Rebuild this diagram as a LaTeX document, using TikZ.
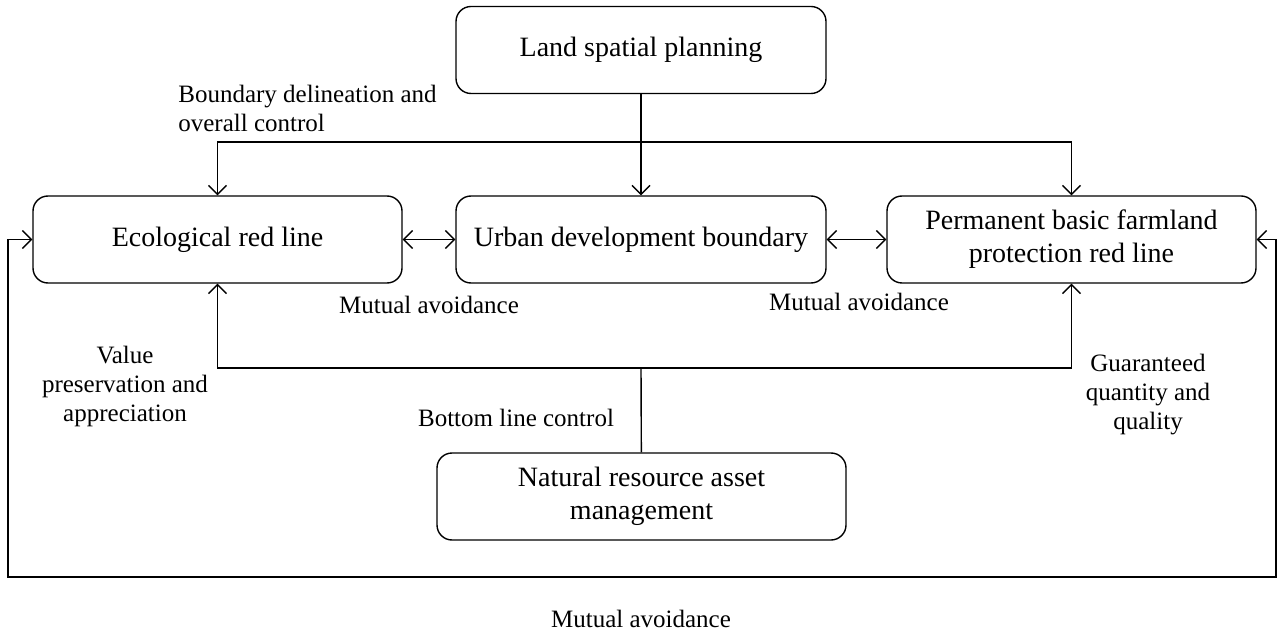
\documentclass[tikz,border=0pt]{standalone}
\usepackage{fontspec}
\setmainfont{Liberation Serif}
\usetikzlibrary{arrows.meta}

\begin{document}
\begin{tikzpicture}[x=0.5pt, y=-0.5pt,
	block/.style={draw, rounded corners=7.5pt, minimum width=185pt, minimum height=43.5pt, align=center, font=\fontsize{14}{16.5}\selectfont},
	lbl/.style={align=center, font=\fontsize{12.5}{14.5}\selectfont},
	every path/.style={line width=0.7pt},
	>={Straight Barb[length=4.5pt, width=9pt]},
	]
	\useasboundingbox (0,0) rectangle (1283,630);

	\node[block] (land) at (641,50) {Land spatial planning};
	\node[block, minimum width=184.5pt] (eco) at (217.5,239.5) {Ecological red line};
	\node[block] (urban) at (641,239.5) {Urban development boundary};
	\node[block, minimum width=184.5pt] (farm) at (1071.5,239.5) {Permanent basic farmland\\protection red line};
	\node[block, minimum width=204.5pt] (nat) at (641.5,496.5) {Natural resource asset\\management};

	\coordinate (topfork) at (641,142);
	\coordinate (botfork) at (641,368);
	\coordinate (loopL) at (8,577);
	\coordinate (loopR) at (1276,577);

	\draw[->] (land) -- (urban);
	\draw[->] (topfork) -| (eco);
	\draw[->] (topfork) -| (farm);

	\draw[<->] (eco) -- (urban);
	\draw[<->] (urban) -- (farm);

	\draw (nat) -- (botfork);
	\draw[->] (botfork) -| (eco);
	\draw[->] (botfork) -| (farm);

	\draw[<->] (eco.west) -| (loopL) -- (loopR) |- (farm.east);

	\node[lbl, anchor=west, align=left] (bound) at (171,108) {Boundary delineation and\\overall control};
	\node[lbl] (avoid1) at (429,305) {Mutual avoidance};
	\node[lbl] (avoid2) at (859,302) {Mutual avoidance};
	\node[lbl] (value) at (125,386) {Value\\preservation and\\appreciation};
	\node[lbl] (bottom) at (516,418) {Bottom line control};
	\node[lbl] (guar) at (1148,395) {Guaranteed\\quantity and\\quality};
	\node[lbl] (avoid3) at (641,619) {Mutual avoidance};

\end{tikzpicture}
\end{document}
